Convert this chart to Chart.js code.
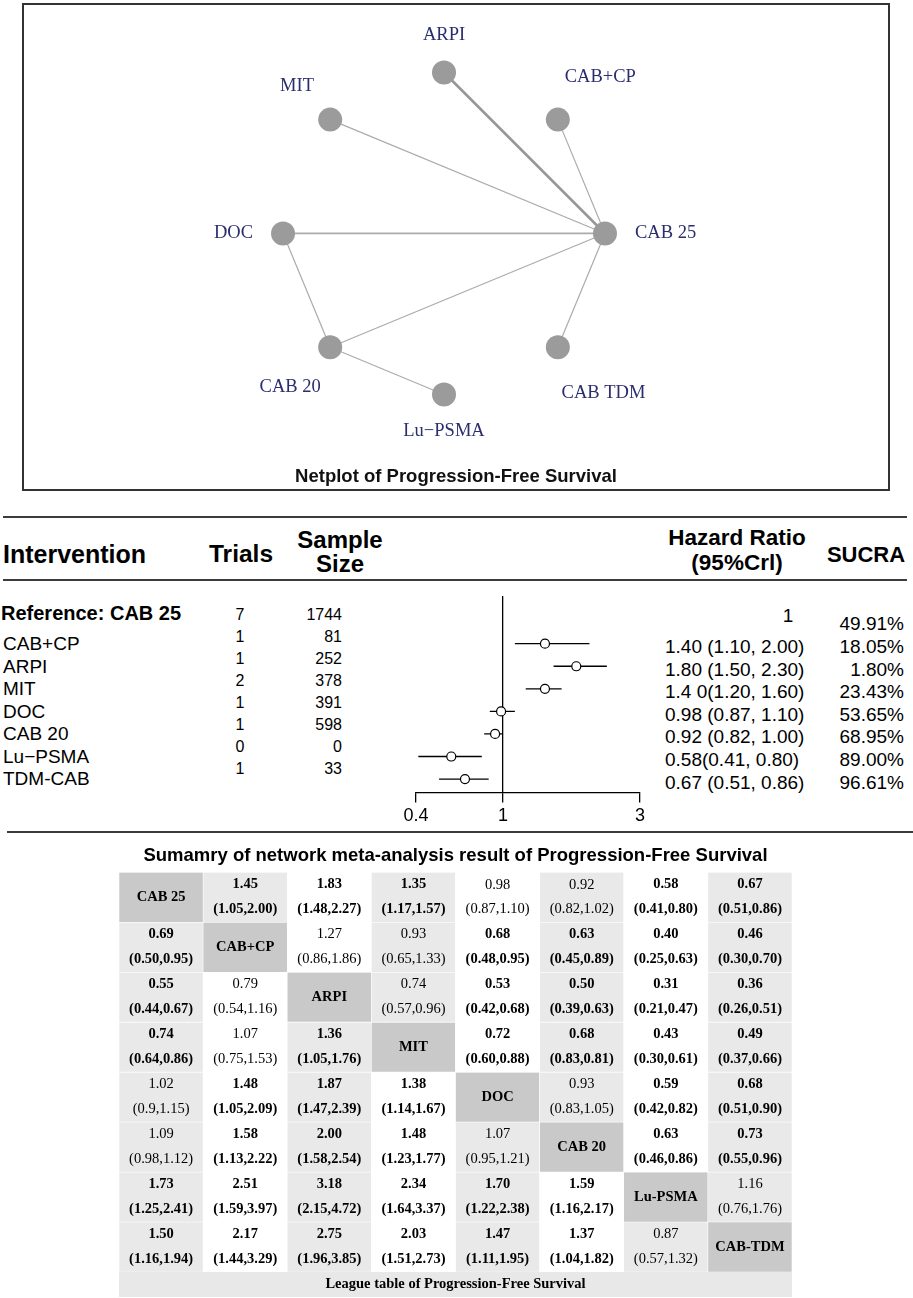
<!DOCTYPE html>
<html>
<head>
<meta charset="utf-8">
<title>PFS network meta-analysis</title>
<script src="https://cdn.jsdelivr.net/npm/chart.js@4.4.1/dist/chart.umd.min.js"></script>
<style>
  body { margin: 0; background: #fff; }
  #page { position: relative; width: 913px; height: 1298px; overflow: hidden; font-family: "Liberation Sans", Arial, sans-serif; color: #000; }
  #netbox { position: absolute; left: 22px; top: 3px; width: 864px; height: 484px; border: 2px solid #333; }
  canvas { position: absolute; left: 0; top: 0; }
  .rule { position: absolute; height: 2px; background: #3c3c3c; }
  .t { position: absolute; white-space: nowrap; line-height: 1; }
</style>
</head>
<body>
<div id="page">
  <div id="netbox"><canvas id="net" width="864" height="484"></canvas></div>
  <div class="rule" style="left:3px;top:516px;width:904px"></div>
  <div class="rule" style="left:3px;top:579px;width:904px"></div>
  <div class="rule" style="left:7px;top:831px;width:906px"></div>
  <div id="cols"></div>
  <canvas id="forest" width="913" height="244" style="top:586px"></canvas>
  <canvas id="league" width="673" height="459" style="left:119px;top:838px"></canvas>
</div>
<script>
"use strict";
Chart.defaults.font.family = '"Liberation Sans", Arial, sans-serif';
Chart.defaults.color = "#000";

// ---- netplot ----
const netNodes = ["ARPI", "CAB+CP", "CAB 25", "CAB TDM", "Lu−PSMA", "CAB 20", "DOC", "MIT"];
const netEdges = [
  ["CAB 25", "ARPI"],
  ["CAB 25", "CAB+CP"],
  ["CAB 25", "MIT"],
  ["CAB 25", "DOC"],
  ["CAB 25", "CAB 20"],
  ["CAB 25", "CAB TDM"],
  ["DOC", "CAB 20"],
  ["CAB 20", "Lu−PSMA"],
];
const edgeWidths = [2.6, 1.2, 1.2, 1.8, 1.2, 1.2, 1.2, 1.2];

// ---- forest plot ----
const interventions = ["Reference: CAB 25", "CAB+CP", "ARPI", "MIT", "DOC", "CAB 20", "Lu−PSMA", "TDM-CAB"];
const trials = [7, 1, 1, 2, 1, 1, 0, 1];
const sampleSize = [1744, 81, 252, 378, 391, 598, 0, 33];
const hr = [1, 1.4, 1.8, 1.4, 0.98, 0.92, 0.58, 0.67];
const hrLow = [null, 1.1, 1.5, 1.2, 0.87, 0.82, 0.41, 0.51];
const hrHigh = [null, 2.0, 2.3, 1.6, 1.1, 1.0, 0.8, 0.86];
const hrText = ["1", "1.40 (1.10, 2.00)", "1.80 (1.50, 2.30)", "1.4 0(1.20, 1.60)", "0.98 (0.87, 1.10)",
  "0.92 (0.82, 1.00)", "0.58(0.41, 0.80)", "0.67 (0.51, 0.86)"];
const sucra = ["49.91%", "18.05%", "1.80%", "23.43%", "53.65%", "68.95%", "89.00%", "96.61%"];
const forestTicks = [0.4, 1, 3];

// ---- league table ----
const leagueNames = ["CAB 25", "CAB+CP", "ARPI", "MIT", "DOC", "CAB 20", "Lu-PSMA", "CAB-TDM"];
const leagueEst = [
  ["", "1.45", "1.83", "1.35", "0.98", "0.92", "0.58", "0.67"],
  ["0.69", "", "1.27", "0.93", "0.68", "0.63", "0.40", "0.46"],
  ["0.55", "0.79", "", "0.74", "0.53", "0.50", "0.31", "0.36"],
  ["0.74", "1.07", "1.36", "", "0.72", "0.68", "0.43", "0.49"],
  ["1.02", "1.48", "1.87", "1.38", "", "0.93", "0.59", "0.68"],
  ["1.09", "1.58", "2.00", "1.48", "1.07", "", "0.63", "0.73"],
  ["1.73", "2.51", "3.18", "2.34", "1.70", "1.59", "", "1.16"],
  ["1.50", "2.17", "2.75", "2.03", "1.47", "1.37", "0.87", ""],
];
const leagueCI = [
  ["", "(1.05,2.00)", "(1.48,2.27)", "(1.17,1.57)", "(0.87,1.10)", "(0.82,1.02)", "(0.41,0.80)", "(0.51,0.86)"],
  ["(0.50,0.95)", "", "(0.86,1.86)", "(0.65,1.33)", "(0.48,0.95)", "(0.45,0.89)", "(0.25,0.63)", "(0.30,0.70)"],
  ["(0.44,0.67)", "(0.54,1.16)", "", "(0.57,0.96)", "(0.42,0.68)", "(0.39,0.63)", "(0.21,0.47)", "(0.26,0.51)"],
  ["(0.64,0.86)", "(0.75,1.53)", "(1.05,1.76)", "", "(0.60,0.88)", "(0.83,0.81)", "(0.30,0.61)", "(0.37,0.66)"],
  ["(0.9,1.15)", "(1.05,2.09)", "(1.47,2.39)", "(1.14,1.67)", "", "(0.83,1.05)", "(0.42,0.82)", "(0.51,0.90)"],
  ["(0.98,1.12)", "(1.13,2.22)", "(1.58,2.54)", "(1.23,1.77)", "(0.95,1.21)", "", "(0.46,0.86)", "(0.55,0.96)"],
  ["(1.25,2.41)", "(1.59,3.97)", "(2.15,4.72)", "(1.64,3.37)", "(1.22,2.38)", "(1.16,2.17)", "", "(0.76,1.76)"],
  ["(1.16,1.94)", "(1.44,3.29)", "(1.96,3.85)", "(1.51,2.73)", "(1.11,1.95)", "(1.04,1.82)", "(0.57,1.32)", ""],
];
const leagueBold = [
  [0, 1, 1, 1, 0, 0, 1, 1],
  [1, 0, 0, 0, 1, 1, 1, 1],
  [1, 0, 0, 0, 1, 1, 1, 1],
  [1, 0, 1, 0, 1, 1, 1, 1],
  [0, 1, 1, 1, 0, 0, 1, 1],
  [0, 1, 1, 1, 0, 0, 1, 1],
  [1, 1, 1, 1, 1, 1, 0, 0],
  [1, 1, 1, 1, 1, 1, 0, 0],
];
const leagueCaption = "League table of Progression-Free Survival";

// ================= netplot =================
const nodePos = netNodes.map((name, k) => {
  const a = Math.PI / 2 - (k * 2 * Math.PI) / netNodes.length;
  return { x: Math.cos(a), y: Math.sin(a) };
});
const posOf = (name) => nodePos[netNodes.indexOf(name)];

const nodeLabels = {
  id: "nodeLabels",
  afterDatasetsDraw(chart) {
    const { ctx, scales } = chart;
    const cx = scales.x.getPixelForValue(0);
    const cy = scales.y.getPixelForValue(0);
    ctx.save();
    ctx.font = '18.5px "Liberation Serif"';
    ctx.fillStyle = "#2a2d6e";
    ctx.textAlign = "center";
    ctx.textBaseline = "middle";
    chart.getDatasetMeta(0).data.forEach((pt, i) => {
      const dx = pt.x - cx, dy = pt.y - cy;
      const len = Math.hypot(dx, dy);
      const ux = dx / len, uy = dy / len;
      const w = ctx.measureText(netNodes[i]).width;
      const d = 30 + (Math.abs(ux) * w) / 2 + Math.abs(uy) * 7;
      ctx.fillText(netNodes[i], pt.x + ux * d, pt.y + uy * d);
    });
    ctx.restore();
  },
};

new Chart(document.getElementById("net"), {
  type: "scatter",
  data: {
    datasets: [
      {
        data: nodePos,
        pointRadius: 12,
        pointBackgroundColor: "#9b9b9b",
        pointBorderWidth: 0,
        order: 0,
      },
      ...netEdges.map((e, i) => ({
        data: [posOf(e[0]), posOf(e[1])],
        showLine: true,
        borderColor: i === 0 ? "#979797" : "#ababab",
        borderWidth: edgeWidths[i],
        pointRadius: 0,
        order: 1,
      })),
    ],
  },
  options: {
    responsive: false,
    animation: false,
    events: [],
    layout: { padding: 0, autoPadding: false },
    scales: {
      x: { display: false, min: -2.609, max: 2.758 },
      y: { display: false, min: -1.381, max: 1.419 },
    },
    plugins: {
      legend: { display: false },
      tooltip: { enabled: false },
      title: {
        display: true,
        position: "bottom",
        text: "Netplot of Progression-Free Survival",
        color: "#111",
        font: { size: 18.5, weight: "bold" },
        padding: { top: 10, bottom: 1 },
      },
    },
  },
  plugins: [nodeLabels],
});

// ================= forest plot =================
// log axis that is stretched differently each side of HR = 1
class SplitLogScale extends Chart.LinearScale {
  _frac(v) {
    const pivot = this.options.pivot ?? 1;
    const at = this.options.pivotAt ?? 0.5;
    return v <= pivot
      ? (at * Math.log(v / this.min)) / Math.log(pivot / this.min)
      : at + ((1 - at) * Math.log(v / pivot)) / Math.log(this.max / pivot);
  }
  getPixelForValue(v) {
    return v == null ? NaN : this.getPixelForDecimal(this._frac(v));
  }
  getValueForPixel(px) {
    const pivot = this.options.pivot ?? 1;
    const at = this.options.pivotAt ?? 0.5;
    const t = this.getDecimalForPixel(px);
    return t <= at
      ? this.min * Math.pow(pivot / this.min, t / at)
      : pivot * Math.pow(this.max / pivot, (t - at) / (1 - at));
  }
}
SplitLogScale.id = "splitlog";
SplitLogScale.defaults = Chart.LinearScale.defaults;
Chart.register(SplitLogScale);

const rows = interventions.map((_, i) => i).filter((i) => hrLow[i] != null);

new Chart(document.getElementById("forest"), {
  type: "scatter",
  data: {
    datasets: [
      {
        data: rows.map((i) => ({ x: hr[i], y: i })),
        pointRadius: 4.5,
        pointBackgroundColor: "#fff",
        pointBorderColor: "#000",
        pointBorderWidth: 1.2,
        order: 0,
      },
      ...rows.map((i) => ({
        data: [{ x: hrLow[i], y: i }, { x: hrHigh[i], y: i }],
        showLine: true,
        borderColor: "#000",
        borderWidth: 1.3,
        pointRadius: 0,
        order: 1,
      })),
    ],
  },
  options: {
    responsive: false,
    animation: false,
    events: [],
    layout: { padding: { left: 416, right: 273, top: 11, bottom: 0 }, autoPadding: false },
    scales: {
      x: {
        type: "splitlog",
        min: 0.4,
        max: 3,
        pivot: 1,
        pivotAt: 87 / 224,
        bounds: "data",
        afterBuildTicks: (s) => {
          s.ticks = forestTicks.map((v) => ({ value: v }));
        },
        border: { display: true, color: "#000", width: 1.3 },
        grid: { display: true, drawOnChartArea: false, drawTicks: true, tickLength: 10, color: "#000", lineWidth: 1.3 },
        ticks: { callback: (v) => String(v), font: { size: 18 }, padding: 3, maxRotation: 0, autoSkip: false },
      },
      y: {
        position: { x: 1 },
        reverse: true,
        min: -1.07,
        max: 7.59,
        ticks: { display: false },
        grid: { display: false, drawTicks: false },
        border: { display: true, color: "#000", width: 1.3 },
      },
    },
    plugins: { legend: { display: false }, tooltip: { enabled: false } },
  },
});

// text columns next to the forest plot
const put = (text, x, y, style, align) => {
  const sx = align === "center" ? "-50%" : align === "right" ? "-100%" : "0";
  return `<div class="t" style="left:${x}px;top:${y}px;transform:translate(${sx},-50%);${style}">${text}</div>`;
};
const bold = (size) => `font-weight:bold;font-size:${size}px;`;
const serif = 'font-family:"Liberation Serif","Times New Roman",serif;font-size:18.5px;';

const colsHtml = `
  ${put("Intervention", 3, 554, bold(25))}
  ${put("Trials", 241, 554, bold(24.5), "center")}
  ${put("Sample", 340, 540, bold(24), "center")}
  ${put("Size", 340, 564, bold(24), "center")}
  ${put("Hazard Ratio", 737, 538, bold(22.5), "center")}
  ${put("(95%Crl)", 737, 563, bold(22.5), "center")}
  ${put("SUCRA", 866, 555, bold(22), "center")}
  ${interventions
    .map((name, i) => (i === 0 ? put(name, 1, 613, bold(20)) : put(name, 3, 643 + 22.5 * (i - 1), "font-size:19px;")))
    .join("")}
  ${trials.map((n, i) => put(n, 240, 615 + 22 * i, serif, "center")).join("")}
  ${sampleSize.map((n, i) => put(n, 342, 615 + 22 * i, serif, "right")).join("")}
  ${hrText
    .map((s, i) => (i === 0 ? put(s, 788, 615, "font-size:19px;", "center") : put(s, 665, 646 + 22.6 * (i - 1), "font-size:19px;")))
    .join("")}
  ${sucra.map((s, i) => put(s, 904, i === 0 ? 623 : 646 + 22.6 * (i - 1), "font-size:19px;", "right")).join("")}
`;
document.getElementById("cols").insertAdjacentHTML("beforeend", colsHtml);

// ================= league table =================
const cellColor = (r, c) => {
  if (r === c) return "#c9c9c9";
  const shaded = r < c ? c % 2 === 1 : c % 2 === 0;
  return shaded ? "#e9e9e9" : "#ffffff";
};

const leagueSets = leagueNames.map((name, r) => ({
  data: leagueNames.map(() => [r, r + 1]),
  backgroundColor: leagueNames.map((_, c) => cellColor(r, c)),
  borderColor: "#fff",
  borderWidth: 0.6,
  borderSkipped: false,
  grouped: false,
  barPercentage: 1,
  categoryPercentage: 1,
}));
leagueSets.push({
  data: leagueNames.map(() => [leagueNames.length, leagueNames.length + 0.5]),
  backgroundColor: "#e8e8e8",
  borderWidth: 0,
  grouped: false,
  barPercentage: 1,
  categoryPercentage: 1,
});

const cellText = {
  id: "cellText",
  afterDatasetsDraw(chart) {
    const { ctx } = chart;
    ctx.save();
    ctx.textAlign = "center";
    ctx.textBaseline = "middle";
    ctx.fillStyle = "#000";
    leagueNames.forEach((name, r) => {
      chart.getDatasetMeta(r).data.forEach((bar, c) => {
        const top = Math.min(bar.y, bar.base);
        const h = Math.abs(bar.y - bar.base);
        if (r === c) {
          ctx.font = 'bold 14.5px "Liberation Serif"';
          ctx.fillText(name, bar.x, top + h / 2);
          return;
        }
        ctx.font = `${leagueBold[r][c] ? "bold " : ""}14.5px "Liberation Serif"`;
        ctx.fillText(leagueEst[r][c], bar.x, top + h * 0.25);
        ctx.fillText(leagueCI[r][c], bar.x, top + h * 0.74);
      });
    });
    const foot = chart.getDatasetMeta(leagueNames.length).data;
    ctx.font = 'bold 14.5px "Liberation Serif"';
    ctx.fillText(leagueCaption, (foot[0].x + foot[foot.length - 1].x) / 2, (foot[0].y + foot[0].base) / 2);
    ctx.restore();
  },
};

new Chart(document.getElementById("league"), {
  type: "bar",
  data: { labels: leagueNames, datasets: leagueSets },
  options: {
    responsive: false,
    animation: false,
    events: [],
    layout: { padding: 0, autoPadding: false },
    scales: {
      x: { display: false },
      y: { display: false, reverse: true, min: 0, max: leagueNames.length + 0.5 },
    },
    plugins: {
      legend: { display: false },
      tooltip: { enabled: false },
      title: {
        display: true,
        text: "Sumamry of network meta-analysis result of Progression-Free Survival",
        color: "#000",
        font: { size: 18.5, weight: "bold" },
        padding: { top: 7, bottom: 5 },
      },
    },
  },
  plugins: [cellText],
});
</script>
</body>
</html>
